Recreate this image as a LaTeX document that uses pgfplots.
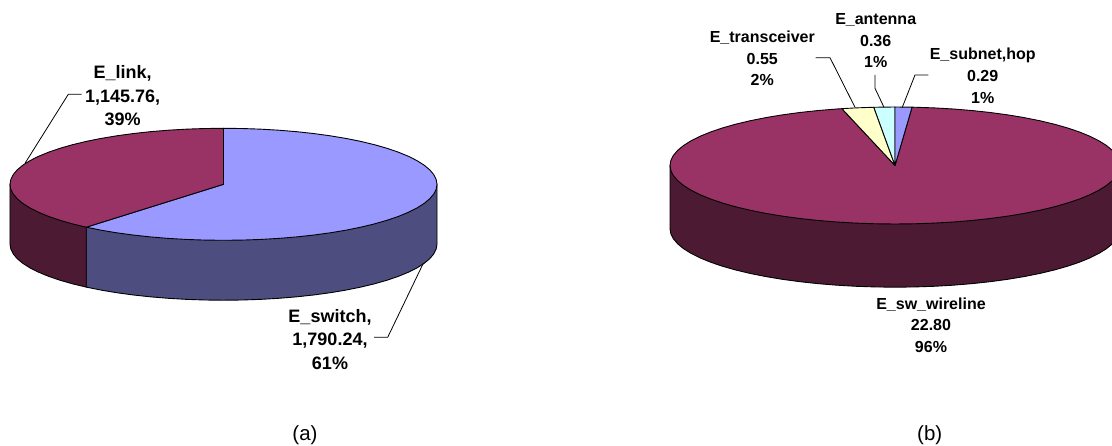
\documentclass[border=0pt]{standalone}
\usepackage{pgfplots}
\pgfplotsset{compat=1.18}
\usepackage{fontspec}
\setmainfont{Liberation Sans}
\definecolor{periwinkle}{HTML}{9999FF}
\definecolor{periwinkledark}{HTML}{4D4D80}
\definecolor{wine}{HTML}{993366}
\definecolor{winedark}{HTML}{4D1A33}
\definecolor{paleyellow}{HTML}{FFFFCC}
\definecolor{palecyan}{HTML}{CCFFFF}
\pgfplotsset{pie/.style={hide axis, scale only axis, axis equal=false,
    ymin=-2.2, ymax=1.1, anchor=south west},
  face/.style={draw=black, line width=0.9pt, line join=round}}
\begin{document}
\begin{tikzpicture}[x=1pt,y=1pt]
\useasboundingbox (0,0) rectangle (1112,445);
% Pie (a): E_switch 1790.24 (about 220 deg clockwise from the top), E_link 1145.76.
% Coordinates are on the unit rim; the side wall hangs 1.07 below it.
\begin{axis}[pie, at={(5.73pt,137.5pt)}, width=435.54pt, height=184.8pt, xmin=-1.02, xmax=1.02]
\addplot[face, fill=periwinkledark] coordinates {
 (1,0)(1,-1.07)(.9962,-1.1572)(.9848,-1.2436)(.9659,-1.3288)(.9397,-1.412)(.9063,-1.4926)
 (.8660,-1.57)(.8192,-1.6436)(.7660,-1.7128)(.7071,-1.7771)(.6428,-1.836)(.5736,-1.8892)
 (.5,-1.936)(.4226,-1.9763)(.3420,-2.0097)(.2588,-2.0359)(.1736,-2.0548)(.0872,-2.0662)(0,-2.07)
 (-.0872,-2.0662)(-.1736,-2.0548)(-.2588,-2.0359)(-.3420,-2.0097)(-.4226,-1.9763)(-.5,-1.936)
 (-.5736,-1.8892)(-.6428,-1.836)(-.6428,-.7660)} --cycle;
\addplot[face, fill=winedark] coordinates {
 (-.6428,-.7660)(-.6428,-1.836)(-.7071,-1.7771)(-.7660,-1.7128)(-.8192,-1.6436)
 (-.8660,-1.57)(-.9063,-1.4926)(-.9397,-1.412)(-.9659,-1.3288)(-.9848,-1.2436)(-.9962,-1.1572)
 (-1,-1.07)(-1,0)} --cycle;
\addplot[face, fill=periwinkle] coordinates {
 (0,0)(0,1)(.0872,.9962)(.1736,.9848)(.2588,.9659)(.3420,.9397)(.4226,.9063)(.5,.8660)
 (.5736,.8192)(.6428,.7660)(.7071,.7071)(.7660,.6428)(.8192,.5736)(.8660,.5)(.9063,.4226)
 (.9397,.3420)(.9659,.2588)(.9848,.1736)(.9962,.0872)(1,0)
 (.9962,-.0872)(.9848,-.1736)(.9659,-.2588)(.9397,-.3420)(.9063,-.4226)(.8660,-.5)
 (.8192,-.5736)(.7660,-.6428)(.7071,-.7071)(.6428,-.7660)(.5736,-.8192)(.5,-.8660)
 (.4226,-.9063)(.3420,-.9397)(.2588,-.9659)(.1736,-.9848)(.0872,-.9962)(0,-1)
 (-.0872,-.9962)(-.1736,-.9848)(-.2588,-.9659)(-.3420,-.9397)(-.4226,-.9063)(-.5,-.8660)
 (-.5736,-.8192)(-.6428,-.7660)} --cycle;
\addplot[face, fill=wine] coordinates {
 (0,0)(-.6428,-.7660)(-.7071,-.7071)(-.7660,-.6428)(-.8192,-.5736)(-.8660,-.5)
 (-.9063,-.4226)(-.9397,-.3420)(-.9659,-.2588)(-.9848,-.1736)(-.9962,-.0872)(-1,0)
 (-.9962,.0872)(-.9848,.1736)(-.9659,.2588)(-.9397,.3420)(-.9063,.4226)(-.8660,.5)
 (-.8192,.5736)(-.7660,.6428)(-.7071,.7071)(-.6428,.7660)(-.5736,.8192)(-.5,.8660)
 (-.4226,.9063)(-.3420,.9397)(-.2588,.9659)(-.1736,.9848)(-.0872,.9962)(0,1)} --cycle;
\end{axis}
% Pie (b): subnet,hop 0.29, sw_wireline 22.80, transceiver 0.55, antenna 0.36,
% clockwise from the top; the boundaries fall at 4.35, 346.35 and 354.6 deg.
\begin{axis}[pie, at={(665.5pt,150.8pt)}, width=446.5pt, height=193.05pt, xmin=-1.02, xmax=.9644]
\addplot[face, fill=winedark] coordinates {
 (1,0)(1,-1.08)(.9962,-1.1672)(.9848,-1.2536)(.9659,-1.3388)(.9397,-1.422)(.9063,-1.5026)
 (.8660,-1.58)(.8192,-1.6536)(.7660,-1.7228)(.7071,-1.7871)(.6428,-1.846)(.5736,-1.8992)
 (.5,-1.946)(.4226,-1.9863)(.3420,-2.0197)(.2588,-2.0459)(.1736,-2.0648)(.0872,-2.0762)(0,-2.08)
 (-.0872,-2.0762)(-.1736,-2.0648)(-.2588,-2.0459)(-.3420,-2.0197)(-.4226,-1.9863)(-.5,-1.946)
 (-.5736,-1.8992)(-.6428,-1.846)(-.7071,-1.7871)(-.7660,-1.7228)(-.8192,-1.6536)(-.8660,-1.58)
 (-.9063,-1.5026)(-.9397,-1.422)(-.9659,-1.3388)(-.9848,-1.2536)(-.9962,-1.1672)(-1,-1.08)(-1,0)} --cycle;
\addplot[face, fill=wine] coordinates {
 (0,0)(.0758,.9971)(.0872,.9962)(.1736,.9848)(.2588,.9659)(.3420,.9397)(.4226,.9063)(.5,.8660)
 (.5736,.8192)(.6428,.7660)(.7071,.7071)(.7660,.6428)(.8192,.5736)(.8660,.5)(.9063,.4226)
 (.9397,.3420)(.9659,.2588)(.9848,.1736)(.9962,.0872)(1,0)
 (.9962,-.0872)(.9848,-.1736)(.9659,-.2588)(.9397,-.3420)(.9063,-.4226)(.8660,-.5)
 (.8192,-.5736)(.7660,-.6428)(.7071,-.7071)(.6428,-.7660)(.5736,-.8192)(.5,-.8660)
 (.4226,-.9063)(.3420,-.9397)(.2588,-.9659)(.1736,-.9848)(.0872,-.9962)(0,-1)
 (-.0872,-.9962)(-.1736,-.9848)(-.2588,-.9659)(-.3420,-.9397)(-.4226,-.9063)(-.5,-.8660)
 (-.5736,-.8192)(-.6428,-.7660)(-.7071,-.7071)(-.7660,-.6428)(-.8192,-.5736)(-.8660,-.5)
 (-.9063,-.4226)(-.9397,-.3420)(-.9659,-.2588)(-.9848,-.1736)(-.9962,-.0872)(-1,0)
 (-.9962,.0872)(-.9848,.1736)(-.9659,.2588)(-.9397,.3420)(-.9063,.4226)(-.8660,.5)
 (-.8192,.5736)(-.7660,.6428)(-.7071,.7071)(-.6428,.7660)(-.5736,.8192)(-.5,.8660)
 (-.4226,.9063)(-.3420,.9397)(-.2588,.9659)(-.2360,.9717)} --cycle;
\addplot[face, fill=paleyellow] coordinates {(0,0)(-.2360,.9717)(-.1736,.9848)(-.0941,.9956)} --cycle;
\addplot[face, fill=palecyan] coordinates {(0,0)(-.0941,.9956)(0,1)} --cycle;
\addplot[face, fill=periwinkle] coordinates {(0,0)(0,1)(.0758,.9971)} --cycle;
\end{axis}
% Leader lines and text, positioned from the top left corner of the picture
\begin{scope}[yshift=445pt, y=-1pt]
\draw[line width=0.8pt] (81.7,94.3) -- (68.3,94.3) -- (25,163.3);
\draw[line width=0.8pt] (374,337.3) -- (387.7,337.3) -- (423.3,263.3);
\draw[line width=0.8pt] (815.7,57.7) -- (830,57.7) -- (855,107.3);
\draw[line width=0.8pt] (875,75) -- (875,88.3) -- (884,107.3);
\draw[line width=0.8pt] (928.3,75) -- (915,75) -- (902.3,107.3);
\tikzset{lblA/.style={align=center, inner sep=0pt, font=\fontsize{18}{23.5}\selectfont\bfseries},
  lblB/.style={align=center, inner sep=0pt, font=\fontsize{16}{21.6}\selectfont\bfseries},
  panel/.style={inner sep=0pt, font=\fontsize{20.5}{24}\selectfont}}
\node[lblA] at (122.7,95.7) {E\_link,\\1,145.76,\\39\%};
\node[lblA] at (330,339.3) {E\_switch,\\1,790.24,\\61\%};
\node[lblB] at (762.3,58.3) {E\_transceiver\\0.55\\2\%};
\node[lblB] at (875.7,40.7) {E\_antenna\\0.36\\1\%};
\node[lblB] at (982.7,75.7) {E\_subnet,hop\\0.29\\1\%};
\node[lblB] at (931,325) {E\_sw\_wireline\\22.80\\96\%};
\node[panel] at (305,435) {(a)};
\node[panel] at (929.7,435) {(b)};
\end{scope}
\end{tikzpicture}
\end{document}
